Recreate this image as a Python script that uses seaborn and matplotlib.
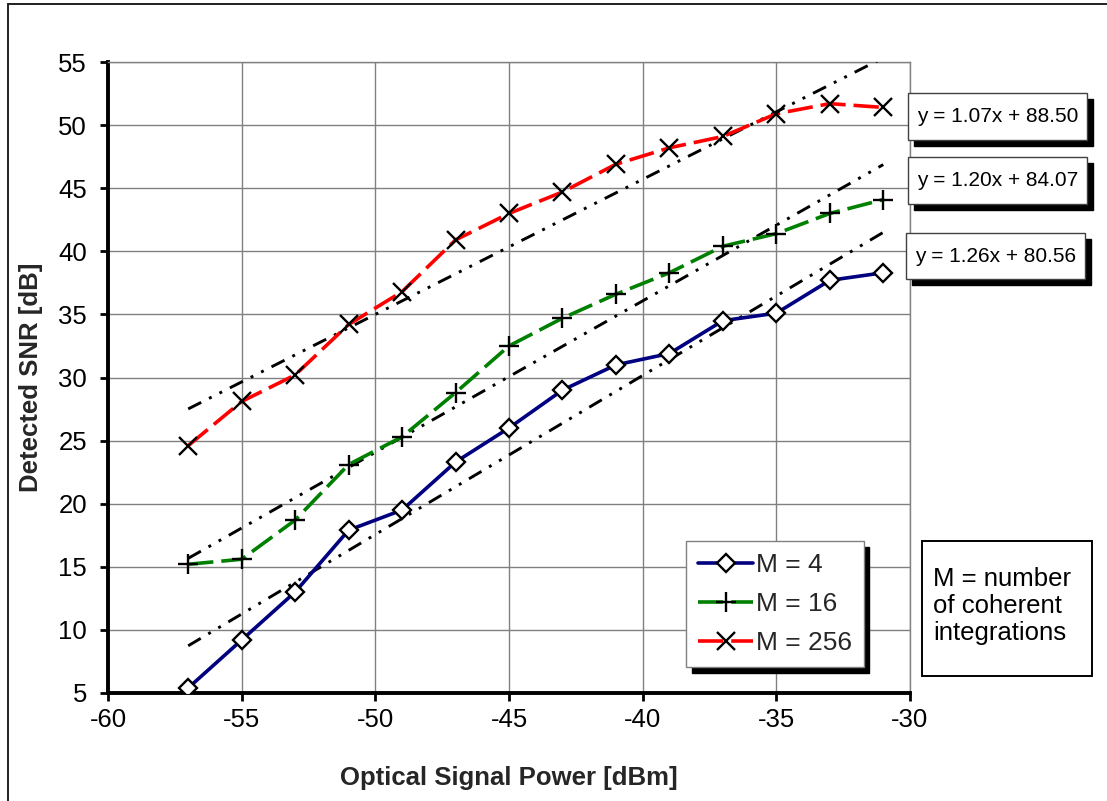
import numpy as np
import pandas as pd
import matplotlib
matplotlib.use("Agg")
import matplotlib.pyplot as plt
from matplotlib.patches import Rectangle
import seaborn as sns

# Optical signal power (dBm) at which the detected SNR was measured
power_dbm = [-57, -55, -53, -51, -49, -47, -45, -43, -41, -39, -37, -35, -33, -31]

# Detected SNR (dB) for each number of coherent integrations
snr_m4 = [5.4, 9.2, 13.0, 17.9, 19.5, 23.3, 26.0, 29.0, 31.0, 31.9, 34.5, 35.1, 37.7, 38.3]
snr_m16 = [15.2, 15.6, 18.7, 23.1, 25.3, 28.8, 32.5, 34.7, 36.6, 38.3, 40.4, 41.4, 43.0, 44.1]
snr_m256 = [24.6, 28.1, 30.2, 34.2, 36.8, 40.9, 43.0, 44.7, 46.9, 48.2, 49.1, 50.9, 51.7, 51.4]

series_labels = ["M = 4", "M = 16", "M = 256"]

# Linear trend coefficients (slope, intercept) for each series
trend_slopes = [1.26, 1.20, 1.07]
trend_intercepts = [80.56, 84.07, 88.50]

x_ticks = [-60, -55, -50, -45, -40, -35, -30]
y_ticks = [5, 10, 15, 20, 25, 30, 35, 40, 45, 50, 55]

W, H = 1107, 801
sns.set_theme(style="white")
plt.rcParams["font.family"] = ["Liberation Sans", "DejaVu Sans"]

fig = plt.figure(figsize=(W / 100, H / 100), dpi=100)
fig.patch.set_facecolor("white")


def fx(px):
    return px / W


def fy(py):
    return 1 - py / H


ax = fig.add_axes([fx(108), fy(693), fx(910) - fx(108), fy(62) - fy(693)])

df = pd.DataFrame({
    "power": power_dbm * 3,
    "snr": snr_m4 + snr_m16 + snr_m256,
    "series": [series_labels[0]] * len(power_dbm)
    + [series_labels[1]] * len(power_dbm)
    + [series_labels[2]] * len(power_dbm),
})

styles = {
    "M = 4": dict(color="#000080", ls="-", marker="D", ms=9.5, mfc="white", mec="black", mew=1.7),
    "M = 16": dict(color="#008000", ls=(0, (7, 2.2)), marker="+", ms=14, mfc="black", mec="black", mew=1.7),
    "M = 256": dict(color="#ff0000", ls=(0, (7, 2.2)), marker="x", ms=12.5, mfc="black", mec="black", mew=1.7),
}

# Trend lines drawn from the stated fit coefficients
xs = np.array([power_dbm[0], power_dbm[-1]], dtype=float)
for k, (a, b) in enumerate(zip(trend_slopes, trend_intercepts)):
    sns.lineplot(x=xs, y=a * xs + b, ax=ax, color="black", lw=2.1,
                 linestyle=(0, (5, 3, 1, 3, 1, 3)), zorder=3)

for lab in series_labels:
    sub = df[df["series"] == lab]
    st = styles[lab]
    sns.lineplot(data=sub, x="power", y="snr", ax=ax, color=st["color"], lw=2.6,
                 linestyle=st["ls"], marker=st["marker"], markersize=st["ms"],
                 markerfacecolor=st["mfc"], markeredgecolor=st["mec"],
                 markeredgewidth=st["mew"], label=lab, zorder=4)

ax.set_xlim(-60, -30)
ax.set_ylim(5, 55)
ax.set_xticks(x_ticks)
ax.set_yticks(y_ticks)
ax.set_xticklabels([str(v) for v in x_ticks])
ax.set_yticklabels([str(v) for v in y_ticks])
ax.grid(True, color="#808080", lw=1.0)
ax.set_axisbelow(True)

for side in ["top", "right"]:
    ax.spines[side].set_color("#808080")
    ax.spines[side].set_linewidth(1.0)
for side in ["left", "bottom"]:
    ax.spines[side].set_color("black")
    ax.spines[side].set_linewidth(2.8)

ax.tick_params(axis="both", which="major", direction="out", length=6, width=2,
               color="black", labelsize=18.5, labelcolor="black",
               left=True, bottom=True)
ax.tick_params(axis="x", pad=5)
ax.tick_params(axis="y", pad=9)

ax.set_xlabel("Optical Signal Power [dBm]", fontsize=18.5, fontweight="bold", labelpad=24)
ax.set_ylabel("Detected SNR [dB]", fontsize=18.5, fontweight="bold", labelpad=11)

# Legend with a solid drop shadow
handles, labels = ax.get_legend_handles_labels()
leg = ax.legend(handles, labels, loc="upper left",
                bbox_to_anchor=(fx(686), fy(541)), bbox_transform=fig.transFigure,
                fontsize=19, frameon=True, fancybox=False, handlelength=2.1,
                handletextpad=0.1, labelspacing=0.58, borderpad=0.45,
                borderaxespad=0,
                shadow={"ox": 4, "oy": -4, "color": "black", "alpha": 1})
leg.get_frame().set_edgecolor("#808080")
leg.get_frame().set_linewidth(1.0)
leg.set_zorder(10)


def shadow_box(x0, y0, x1, y1, shadow=True):
    if shadow:
        fig.patches.append(Rectangle((fx(x0 + 6), fy(y1 + 6)), fx(x1 - x0), fy(y0) - fy(y1),
                                     transform=fig.transFigure, facecolor="black",
                                     edgecolor="black", zorder=5))
    fig.patches.append(Rectangle((fx(x0), fy(y1)), fx(x1 - x0), fy(y0) - fy(y1),
                                 transform=fig.transFigure, facecolor="white",
                                 edgecolor="#404040" if shadow else "black",
                                 lw=1.0 if shadow else 1.4, zorder=6))


# Fit equation boxes, top to bottom: M = 256, M = 16, M = 4
eq_boxes = [(908, 93, 1087, 140), (908, 157, 1087, 204), (906, 233, 1085, 279)]
for (x0, y0, x1, y1), a, b in zip(eq_boxes, trend_slopes[::-1], trend_intercepts[::-1]):
    shadow_box(x0, y0, x1, y1)
    fig.text(fx((x0 + x1) / 2), fy((y0 + y1) / 2), f"y = {a:.2f}x + {b:.2f}",
             ha="center", va="center", fontsize=15, color="black", zorder=7)

# Note box
shadow_box(922, 541, 1092, 676, shadow=False)
fig.text(fx(933), fy(606), "M = number\nof coherent\nintegrations", ha="left", va="center",
         fontsize=18.5, color="black", linespacing=1.15, zorder=7)

# Outer frame
fig.patches.append(Rectangle((fx(8), -0.1), 1.2, fy(4) + 0.1, transform=fig.transFigure,
                             facecolor="none", edgecolor="#202020", lw=1.4, zorder=1))

fig.savefig("out.png", dpi=100, facecolor="white")
